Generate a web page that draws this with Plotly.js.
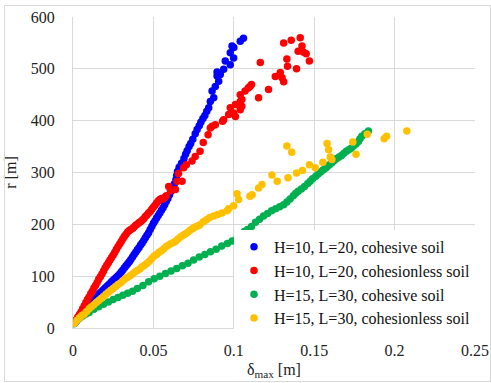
<!DOCTYPE html>
<html>
<head>
<meta charset="utf-8">
<script src="https://cdn.plot.ly/plotly-3.0.1.min.js"></script>
<style>
html,body{margin:0;padding:0;background:#fff;}
#chart{position:absolute;left:0;top:0;width:491px;height:383px;}
#frame{position:absolute;left:4px;top:5px;width:485px;height:375px;border:1px solid #d9d9d9;pointer-events:none;}
</style>
</head>
<body>
<div id="chart"></div>
<div id="frame"></div>
<script>
// Series names
const seriesNames = [
  "H=10, L=20, cohesive soil",
  "H=10, L=20, cohesionless soil",
  "H=15, L=30, cohesive soil",
  "H=15, L=30, cohesionless soil"
];

// H=10, L=20, cohesive soil
const blueX = [0.001,0.002,0.003,0.004,0.005,0.006,0.007,0.008,0.009,0.010,0.011,0.012,0.013,0.014,0.015,0.016,0.017,0.018,0.019,0.020,0.021,0.022,0.023,0.024,0.025,0.026,0.027,0.028,0.029,0.030,0.031,0.032,0.033,0.034,0.035,0.036,0.037,0.038,0.039,0.040,0.041,0.042,0.043,0.044,0.045,0.046,0.047,0.048,0.049,0.050,0.051,0.052,0.053,0.054,0.055,0.056,0.057,0.058,0.059,0.060,0.061,0.062,0.063,0.064,0.0645,0.0650,0.0660,0.0675,0.0690,0.0700,0.0710,0.0722,0.0732,0.0745,0.0760,0.0772,0.0785,0.0795,0.0808,0.0820,0.0832,0.0844,0.0854,0.0875,0.0865,0.0885,0.0906,0.0896,0.0896,0.0916,0.0937,0.0947,0.0978,0.0999,0.0978,0.0989,0.1000,0.1040,0.1060];
const blueY = [9,13,17,21,25,29,33,37,41,45,48,52,55,58,61,65,68,71,74,77,80,83,86,89,92,95,98,101,104,108,112,116,120,124,128,132,137,142,146,151,155,160,164,169,174,179,184,190,196,202,207,212,217,222,227,232,238,244,250,257,264,271,278,286,294,302,310,318,327,335,342,350,356,364,375,383,390,397,404,410,418,425,437,444,457,466,476,486,494,489,499,515,508,521,531,544,541,553,559];

// H=10, L=20, cohesionless soil
const redX = [0.001,0.002,0.003,0.004,0.005,0.006,0.007,0.008,0.009,0.010,0.011,0.012,0.013,0.014,0.015,0.016,0.017,0.018,0.019,0.020,0.021,0.022,0.023,0.024,0.025,0.026,0.027,0.028,0.029,0.030,0.031,0.032,0.033,0.034,0.035,0.036,0.037,0.038,0.039,0.040,0.041,0.042,0.043,0.044,0.045,0.046,0.047,0.048,0.049,0.050,0.051,0.052,0.053,0.054,0.055,0.056,0.057,0.058,0.0595,0.0606,0.0637,0.0647,0.0656,0.0678,0.0688,0.0705,0.0740,0.0760,0.0790,0.0810,0.0840,0.0854,0.0865,0.0885,0.0930,0.0937,0.0968,0.0978,0.0999,0.1010,0.1010,0.1040,0.1040,0.1050,0.1050,0.1040,0.1070,0.1090,0.1100,0.1110,0.1154,0.1165,0.1216,0.1258,0.1289,0.1300,0.1310,0.1330,0.1334,0.1390,0.1310,0.1357,0.1413,0.1424,0.1400,0.1434,0.1450,0.1470];
const redY = [12,16,21,26,31,37,43,49,55,60,66,71,77,82,88,94,99,104,110,116,121,126,131,136,141,146,152,157,162,167,172,177,181,185,188,190,192,195,198,200,203,205,208,211,215,218,222,225,229,233,237,241,245,248,250,249,252,255,273,265,267,283,298,283,309,315,322,331,341,358,373,386,389,392,399,402,412,425,415,408,431,421,437,428,441,450,457,463,466,470,444,512,460,485,493,483,475,519,505,500,550,555,560,544,534,532,529,515];

// H=15, L=30, cohesive soil
const greenX = [0.0005,0.0020,0.0040,0.0060,0.0080,0.0100,0.0130,0.0160,0.0190,0.0220,0.0250,0.0280,0.0310,0.0340,0.0370,0.0400,0.0435,0.0470,0.0505,0.0540,0.0575,0.0610,0.0645,0.0680,0.0715,0.0750,0.0785,0.0820,0.0855,0.0890,0.0925,0.0960,0.0990,0.1020,0.1045,0.1065,0.1085,0.1110,0.1135,0.1160,0.1185,0.1210,0.1235,0.1260,0.1285,0.1310,0.1330,0.1350,0.1370,0.1385,0.1400,0.1420,0.1440,0.1460,0.1475,0.1490,0.1510,0.1525,0.1540,0.1555,0.1570,0.1580,0.1595,0.1610,0.1625,0.1640,0.1655,0.1670,0.1685,0.1700,0.1715,0.1730,0.1744,0.1760,0.1775,0.1785,0.1796,0.1815,0.1837];
const greenY = [8,13,19,23,27,30,36,41,46,50,55,59,63,67,71,76,82,89,95,100,105,110,115,120,125,131,137,142,147,152,158,163,168,173,180,186,190,196,204,210,216,221,226,230,234,238,243,249,255,260,264,268,273,279,283,288,293,297,301,305,308,311,315,319,323,327,330,333,337,341,344,347,351,355,360,365,370,375,380];

// H=15, L=30, cohesionless soil
const yellowX = [0.0010,0.0025,0.0040,0.0055,0.0070,0.0085,0.0100,0.0115,0.0130,0.0145,0.0160,0.0175,0.0190,0.0205,0.0220,0.0235,0.0250,0.0265,0.0280,0.0295,0.0310,0.0325,0.0340,0.0355,0.0370,0.0385,0.0400,0.0415,0.0430,0.0445,0.0460,0.0475,0.0490,0.0505,0.0520,0.0535,0.0550,0.0565,0.0580,0.0595,0.0610,0.0625,0.0640,0.0655,0.0670,0.0685,0.0700,0.0715,0.0730,0.0745,0.0760,0.0775,0.0790,0.0810,0.0830,0.0850,0.0875,0.0900,0.0927,0.0958,0.0968,0.0999,0.1020,0.1030,0.1100,0.1114,0.1154,0.1175,0.1237,0.1270,0.1337,0.1390,0.1427,0.1470,0.1506,0.1554,0.1580,0.1590,0.1600,0.1610,0.1330,0.1360,0.1740,0.1760,0.1830,0.1935,0.1950,0.2076];
const yellowY = [9,15,20,24,27,32,37,41,45,49,53,57,61,65,69,73,76,80,84,87,91,95,98,101,104,108,111,114,118,121,125,129,134,139,142,146,149,153,157,160,163,165,168,172,176,179,182,185,189,192,195,197,199,205,209,213,216,219,222,226,230,236,259,248,254,257,270,277,295,283,290,299,304,315,309,320,356,344,330,325,351,339,359,335,374,365,370,380];

// Tick values
const xTicks = [0, 0.05, 0.1, 0.15, 0.2, 0.25];
const xTickText = ["0", "0.05", "0.1", "0.15", "0.2", "0.25"];
const yTicks = [0, 100, 200, 300, 400, 500, 600];

const colors = ["#0000ff", "#ff0000", "#00b050", "#ffc000"];
const xs = [blueX, redX, greenX, yellowX];
const ys = [blueY, redY, greenY, yellowY];

const font = "Liberation Serif";

const traces = xs.map((x, i) => ({
  type: "scatter",
  mode: "markers",
  name: seriesNames[i],
  x: x,
  y: ys[i],
  marker: {color: colors[i], size: 7.5, line: {width: 0}},
  hoverinfo: "x+y"
}));

const layout = {
  width: 491,
  height: 383,
  margin: {l: 73, r: 16, t: 17, b: 55},
  paper_bgcolor: "#ffffff",
  plot_bgcolor: "#ffffff",
  font: {family: font, size: 16, color: "#222222"},
  showlegend: true,
  legend: {
    x: 1, xanchor: "right", y: -0.025, yanchor: "bottom",
    bgcolor: "#ffffff", borderwidth: 0,
    font: {family: font, size: 16, color: "#111111"},
    itemwidth: 30, tracegroupgap: 0
  },
  xaxis: {
    range: [0, 0.25],
    tickvals: xTicks, ticktext: xTickText,
    showgrid: true, gridcolor: "#d9d9d9", gridwidth: 1,
    showline: true, linecolor: "#d9d9d9", linewidth: 1,
    zeroline: false, ticks: "", ticklabelstandoff: 8,
    tickfont: {family: font, size: 16, color: "#222222"},
    title: {text: "δ<sub>max</sub> [m]", font: {family: font, size: 16, color: "#222222"}, standoff: 5}
  },
  yaxis: {
    range: [0, 600],
    tickvals: yTicks,
    showgrid: true, gridcolor: "#d9d9d9", gridwidth: 1,
    showline: true, linecolor: "#d9d9d9", linewidth: 1,
    zeroline: false, ticks: "", ticklabelstandoff: 14,
    tickfont: {family: font, size: 16, color: "#222222"},
    title: {text: "r [m]", font: {family: font, size: 16, color: "#222222"}, standoff: 10}
  }
};

Plotly.newPlot("chart", traces, layout, {displayModeBar: false, staticPlot: true});
</script>
</body>
</html>
